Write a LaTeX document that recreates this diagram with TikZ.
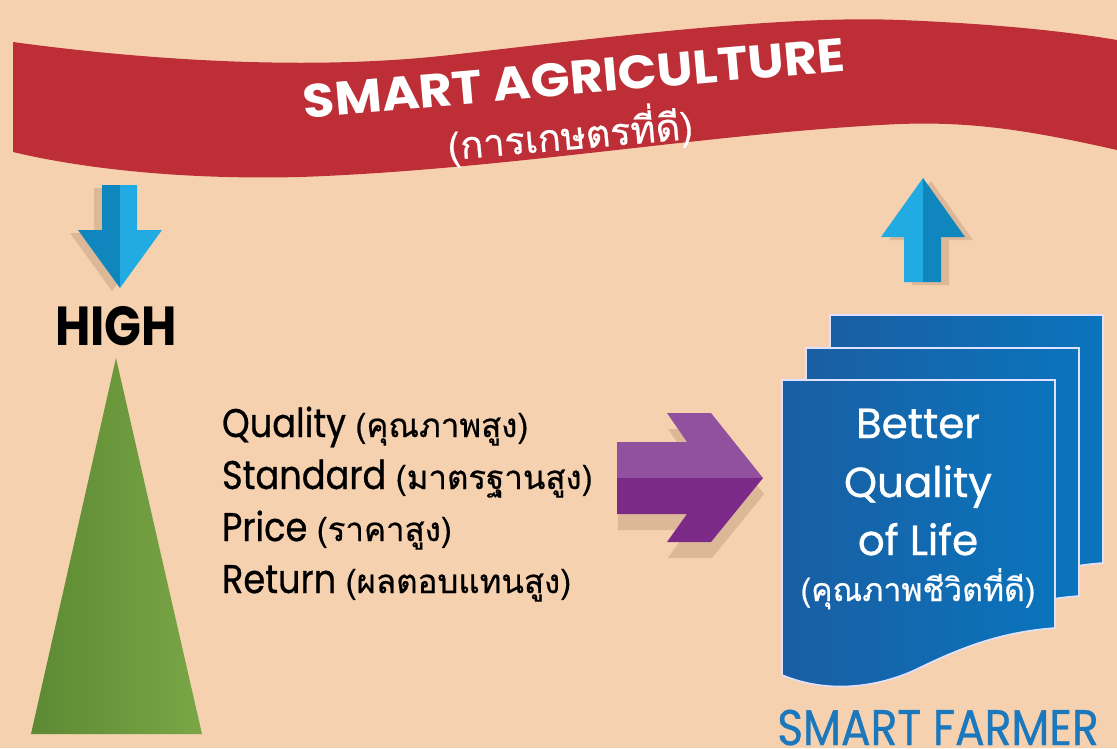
\documentclass[tikz,border=0pt]{standalone}
\usepackage{fontspec}
\newfontfamily\popn[FakeStretch=0.88]{Poppins}
\newfontfamily\popnm[FakeStretch=0.88,FakeBold=0.7]{Poppins}
\newfontfamily\popwm[FakeBold=0.9]{Poppins}
\newfontfamily\popt[FakeStretch=1.09]{Poppins}
\newfontfamily\thai[Script=Thai]{Loma}
\newfontfamily\thaim[Script=Thai,FakeBold=0.6]{Loma}
\newcommand\thaiitem{\thaim\fontsize{33}{35}\selectfont}
\definecolor{bg}{HTML}{F6D1B0}
\definecolor{shadowc}{HTML}{DDB898}
\definecolor{bannerred}{HTML}{BD2E37}
\definecolor{blueL}{HTML}{22AAE2}
\definecolor{blueD}{HTML}{0F87BE}
\definecolor{greenL}{HTML}{7AA646}
\definecolor{greenD}{HTML}{5C8A33}
\definecolor{purpL}{HTML}{92519F}
\definecolor{purpD}{HTML}{7C2A88}
\definecolor{docL}{HTML}{1A5EA3}
\definecolor{docR}{HTML}{0A74BC}
\definecolor{farmer}{HTML}{1B78BD}
\tikzset{
  txt/.style={inner sep=0pt, outer sep=0pt},
  docpage/.style={draw=white!88!blue, line width=1.6pt, left color=docL, right color=docR},
  lineitem/.style={txt, anchor=base west, text=black, font=\popnm\fontsize{40}{42}\selectfont},
  pagetext/.style={txt, anchor=base, text=white, font=\popwm\fontsize{42}{44}\selectfont},
}
\begin{document}
\begin{tikzpicture}[x=1pt,y=-1pt]
\fill[bg] (0,0) rectangle (1117,748);
\useasboundingbox (0,0) rectangle (1117,748);

% banner
\fill[bannerred] (13,42) .. controls (130,58) and (300,72) .. (450,55)
  .. controls (600,38) and (780,15) .. (900,20)
  .. controls (1000,24) and (1070,32) .. (1117,40)
  -- (1117,150) .. controls (1020,128) and (960,120) .. (880,125)
  .. controls (700,135) and (500,170) .. (300,177)
  .. controls (180,180) and (80,168) .. (13,152) -- cycle;
\node[txt, text=white, rotate=5, font=\popt\bfseries\fontsize{47}{49}\selectfont] (title) at (574,78) {SMART AGRICULTURE};
\node[txt, text=white, rotate=5, font=\thaim\fontsize{38}{40}\selectfont] (subtitle) at (570,134) {(การเกษตรที่ดี)};

% down arrow
\fill[shadowc, shift={(-8,3)}] (102,185) -- (137,185) -- (137,230) -- (162,230) -- (120,288) -- (78,230) -- (102,230) -- cycle;
\fill[blueD] (102,185) -- (120,185) -- (120,288) -- (78,230) -- (102,230) -- cycle;
\fill[blueL] (120,185) -- (137,185) -- (137,230) -- (162,230) -- (120,288) -- cycle;

\node[txt, anchor=base, font=\popn\bfseries\fontsize{55}{57}\selectfont] (high) at (116,345) {HIGH};

% green triangle
\shade[left color=greenD, right color=greenL] (116,358) -- (202,734) -- (31,734) -- cycle;

% list
\node[lineitem] (q1) at (222,437) {Quality {\thaiitem (คุณภาพสูง)}};
\node[lineitem] (q2) at (222,489) {Standard {\thaiitem (มาตรฐานสูง)}};
\node[lineitem] (q3) at (222,541) {Price {\thaiitem (ราคาสูง)}};
\node[lineitem] (q4) at (222,593) {Return {\thaiitem (ผลตอบแทนสูง)}};

% purple arrow
\fill[shadowc, shift={(1,16)}] (617,442) -- (687,442) -- (667,413) -- (711,413) -- (763,478) -- (711,542) -- (667,542) -- (687,514) -- (617,514) -- cycle;
\fill[purpL] (617,442) -- (687,442) -- (667,413) -- (711,413) -- (763,478) -- (617,478) -- cycle;
\fill[purpD] (617,478) -- (763,478) -- (711,542) -- (667,542) -- (687,514) -- (617,514) -- cycle;

% up arrow
\fill[shadowc, shift={(8,3)}] (923,178) -- (965,237) -- (941,237) -- (941,282) -- (904,282) -- (904,237) -- (881,237) -- cycle;
\fill[blueL] (923,178) -- (923,282) -- (904,282) -- (904,237) -- (881,237) -- cycle;
\fill[blueD] (923,178) -- (965,237) -- (941,237) -- (941,282) -- (923,282) -- cycle;

% document stack
\foreach \dx/\dy in {48/-65, 24/-32, 0/0} {
  \begin{scope}[shift={(\dx,\dy)}]
    \path[docpage] (782,380) -- (1055,380) -- (1055,628)
      .. controls (1000,632) and (960,648) .. (915,670)
      .. controls (880,686) and (830,695) .. (782,675) -- cycle;
  \end{scope}
}
\node[pagetext] (p1) at (918,438) {Better};
\node[pagetext] (p2) at (918,497) {Quality};
\node[pagetext] (p3) at (918,555) {of Life};
\node[pagetext, font=\thaim\fontsize{32}{34}\selectfont] (p4) at (918,601) {(คุณภาพชีวิตที่ดี)};

\node[txt, anchor=base, text=farmer, font=\popnm\fontsize{50}{52}\selectfont] (farmer) at (938,745) {SMART FARMER};
\end{tikzpicture}
\end{document}
